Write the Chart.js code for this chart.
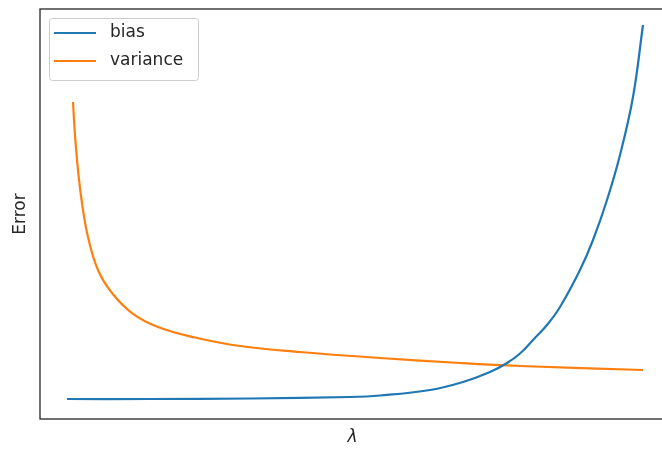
<!DOCTYPE html>
<html>
<head>
<meta charset="utf-8">
<script src="https://cdn.jsdelivr.net/npm/chart.js@4.4.1/dist/chart.umd.min.js"></script>
<style>
  html, body { margin: 0; padding: 0; background: #fff; overflow: hidden; }
  #wrap { width: 662px; height: 449px; overflow: hidden; }
  canvas { display: block; }
</style>
</head>
<body>
<div id="wrap"><canvas id="chart" width="670" height="449" style="width:670px;height:449px"></canvas></div>
<script>
// values (lambda and error in % of the axis range)
const biasLambda = [4.32, 17.6, 33.6, 49.6, 54.4, 62.4, 67.68, 72.0, 74.72, 76.8, 78.88, 81.12, 83.2, 86.4, 88.48, 90.72, 92.8, 94.88, 96.48];
const biasError = [4.88, 4.88, 5.0, 5.37, 5.73, 7.07, 9.02, 11.46, 13.66, 15.98, 19.27, 22.93, 27.32, 36.34, 43.66, 53.41, 64.39, 78.54, 96.1];
const varianceLambda = [5.28, 5.6, 6.08, 6.72, 7.68, 9.28, 11.52, 14.72, 18.88, 24.8, 32.0, 41.6, 54.4, 67.2, 76.8, 96.48];
const varianceError = [77.32, 69.27, 60.73, 52.68, 44.39, 36.34, 30.73, 25.85, 22.44, 19.88, 17.8, 16.34, 14.88, 13.66, 12.93, 11.95];
const seriesLabels = ["bias", "variance"];
const xLabel = "λ";
const yLabel = "Error";

const blue = "#1f77b4";
const orange = "#ff7f0e";
const font = "'DejaVu Sans', sans-serif";

function pts(xs, ys) {
  return xs.map((x, i) => ({ x: x, y: ys[i] }));
}

// matplotlib-like frame (left, top, bottom; right edge falls outside the window)
const framePlugin = {
  id: "frame",
  afterDatasetsDraw(chart) {
    const { ctx, chartArea: a } = chart;
    ctx.save();
    ctx.strokeStyle = "#262626";
    ctx.lineWidth = 1.3;
    ctx.strokeRect(a.left, a.top, a.right - a.left, a.bottom - a.top);
    ctx.restore();
  },
};

// legend box in the upper left corner
const legendPlugin = {
  id: "mplLegend",
  afterDraw(chart) {
    const { ctx, chartArea: a } = chart;
    const x0 = a.left + 9, y0 = a.top + 9, w = 149, h = 62;
    ctx.save();
    ctx.fillStyle = "rgba(255,255,255,0.8)";
    ctx.strokeStyle = "#cccccc";
    ctx.lineWidth = 1;
    ctx.beginPath();
    ctx.roundRect(x0 + 0.5, y0 + 0.5, w, h, 3);
    ctx.fill();
    ctx.stroke();
    ctx.font = "17px " + font;
    ctx.textBaseline = "middle";
    chart.data.datasets.forEach((ds, i) => {
      const y = y0 + 15 + i * 28;
      ctx.strokeStyle = ds.borderColor;
      ctx.lineWidth = 2.2;
      ctx.beginPath();
      ctx.moveTo(x0 + 5, y);
      ctx.lineTo(x0 + 47, y);
      ctx.stroke();
      ctx.fillStyle = "#262626";
      ctx.fillText(ds.label, x0 + 61, y);
    });
    ctx.restore();
  },
};

new Chart(document.getElementById("chart"), {
  type: "line",
  data: {
    datasets: [
      {
        label: seriesLabels[0],
        data: pts(biasLambda, biasError),
        borderColor: blue,
        borderWidth: 2.2,
        pointRadius: 0,
        tension: 0.4,
      },
      {
        label: seriesLabels[1],
        data: pts(varianceLambda, varianceError),
        borderColor: orange,
        borderWidth: 2.2,
        pointRadius: 0,
        tension: 0.4,
      },
    ],
  },
  options: {
    responsive: false,
    animation: false,
    layout: { padding: { left: 0, top: 9, right: 5, bottom: 0 } },
    plugins: { legend: { display: false }, tooltip: { enabled: false } },
    scales: {
      x: {
        type: "linear",
        min: 0,
        max: 100,
        grid: { display: false },
        border: { display: false },
        ticks: { display: false },
        title: { display: true, text: xLabel, color: "#262626", font: { family: font, size: 17, style: "italic" }, padding: { top: 0, bottom: 1 } },
        afterFit(scale) { scale.height = 30; },
      },
      y: {
        min: 0,
        max: 100,
        grid: { display: false },
        border: { display: false },
        ticks: { display: false },
        title: { display: true, text: yLabel, color: "#262626", font: { family: font, size: 17 }, padding: { top: 10, bottom: 0 } },
        afterFit(scale) { scale.width = 40; },
      },
    },
  },
  plugins: [framePlugin, legendPlugin],
});
</script>
</body>
</html>
